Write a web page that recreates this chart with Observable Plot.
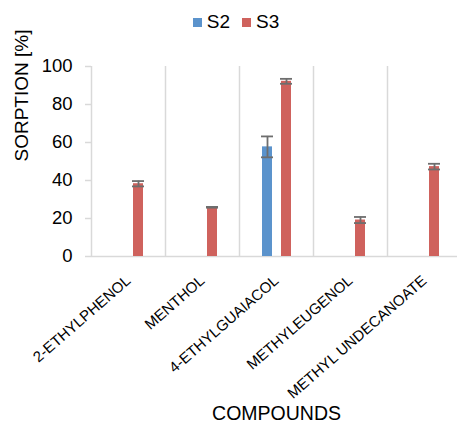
<!DOCTYPE html>
<html><head><meta charset="utf-8">
<script src="https://cdn.jsdelivr.net/npm/d3@7"></script>
<script src="https://cdn.jsdelivr.net/npm/@observablehq/plot@0.6"></script>
<style>
body{margin:0;background:#fff;font-family:"Liberation Sans",Arial,sans-serif;}
#wrap{position:relative;width:457px;height:427px;overflow:hidden;}
#legend{position:absolute;top:11px;left:0;width:472px;display:flex;justify-content:center;align-items:center;font-size:19px;color:#000;}
#legend .item{display:flex;align-items:center;margin:0 6px;}
#legend .sw{width:9px;height:9px;margin-right:5px;}
</style></head><body><div id="wrap"><div id="legend"></div></div>
<script>
const compounds = ["2-ETHYLPHENOL","MENTHOL","4-ETHYLGUAIACOL","METHYLEUGENOL","METHYL UNDECANOATE"];
const seriesNames = ["S2","S3"];
const seriesColors = ["#5b93cc","#cf625d"];
const s2Values = [null,null,57.7,null,null];
const s2Errors = [null,null,5.5,null,null];
const s3Values = [38.3,25.9,92.2,19.2,47.3];
const s3Errors = [1.4,0.2,1.3,1.6,1.5];
const yTicks = [0,20,40,60,80,100];

const s2 = compounds.map((c,i)=>({compound:c, value:s2Values[i], err:s2Errors[i]})).filter(d=>d.value!=null);
const s3 = compounds.map((c,i)=>({compound:c, value:s3Values[i], err:s3Errors[i]})).filter(d=>d.value!=null);

const errColor = "#6e6e6e";
const gridColor = "#d9d9d9";
const font = "Liberation Sans, Arial, sans-serif";

function errMarks(data, dx, capL, capR){
  return [
    Plot.ruleX(data, {x:"compound", y1:d=>d.value-d.err, y2:d=>d.value+d.err, dx, stroke:errColor, strokeWidth:1.8}),
    Plot.tickY(data, {x:"compound", y:d=>d.value-d.err, insetLeft:capL, insetRight:capR, stroke:errColor, strokeWidth:1.8}),
    Plot.tickY(data, {x:"compound", y:d=>d.value+d.err, insetLeft:capL, insetRight:capR, stroke:errColor, strokeWidth:1.8})
  ];
}

const chart = Plot.plot({
  width:457, height:427,
  marginLeft:91, marginRight:-4, marginTop:66, marginBottom:171,
  style:{fontFamily:font, background:"#fff", color:"#000", overflow:"visible"},
  x:{type:"band", domain:compounds, padding:0},
  y:{domain:[0,100]},
  marks:[
    Plot.ruleX(compounds, {x:d=>d, dx:-37, y1:0, y2:100, stroke:gridColor, strokeWidth:1.5}),
    Plot.ruleY([0], {stroke:gridColor, strokeWidth:1.5}),
    Plot.axisY({ticks:yTicks, tickSize:6, tickPadding:13, stroke:gridColor, strokeWidth:1.5, fill:"#000", fontSize:18.5, label:null}),
    Plot.axisX({tickSize:0, tickRotate:-41, tickPadding:22, fontSize:15, fill:"#000", label:null}),
    Plot.barY(s2, {x:"compound", y:"value", fill:seriesColors[0], insetLeft:23, insetRight:41}),
    Plot.barY(s3, {x:"compound", y:"value", fill:seriesColors[1], insetLeft:42, insetRight:22}),
    ...errMarks(s2, -9, 22, 40),
    ...errMarks(s3, 10, 41, 21),
    Plot.text(["SORPTION [%]"], {frameAnchor:"left", rotate:-90, dx:-70, fontSize:19, fill:"#000"}),
    Plot.text(["COMPOUNDS"], {frameAnchor:"bottom", dy:163, fontSize:19.5, fill:"#000"})
  ]
});
document.getElementById("wrap").appendChild(chart);

const legend = document.getElementById("legend");
seriesNames.forEach((n,i)=>{
  const it = document.createElement("div"); it.className="item";
  const sw = document.createElement("div"); sw.className="sw"; sw.style.background=seriesColors[i];
  const t = document.createElement("span"); t.textContent=n;
  it.appendChild(sw); it.appendChild(t); legend.appendChild(it);
});
</script></body></html>
